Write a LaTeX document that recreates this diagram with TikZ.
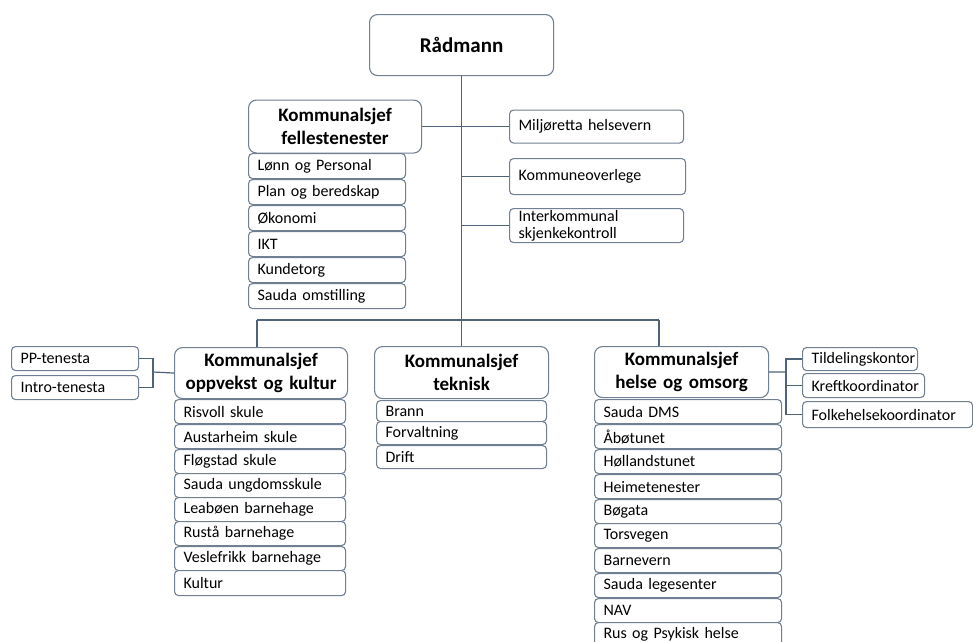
\documentclass[tikz,border=0pt]{standalone}
\usepackage{fontspec}
\setmainfont{Carlito}
\definecolor{boxline}{RGB}{112,128,146}
\definecolor{connc}{RGB}{78,98,122}
\begin{document}
\begin{tikzpicture}[x=1pt,y=-1pt,
  item/.style={draw=boxline, line width=1.1pt, fill=white, rounded corners=4pt, anchor=north west,
    inner xsep=9pt, inner ysep=0pt, align=left, font=\fontsize{16}{19}\selectfont},
  head/.style={draw=boxline, line width=1.1pt, fill=white, rounded corners=8pt, anchor=north west,
    inner sep=0pt, align=center, font=\fontsize{19}{23}\selectfont\bfseries},
  link/.style={draw=connc, line width=1.2pt}]
\useasboundingbox (0,0) rectangle (973,641);
% top
\node[head, minimum width=184, minimum height=61, font=\fontsize{21}{24}\selectfont\bfseries] (ra) at (369,14) {Rådmann};
\node[head, minimum width=173, minimum height=53, text width=170] (fs) at (248,99.5) {Kommunalsjef\\fellestenester};
\node[item, minimum height=25, text width=139] (f1) at (248,153) {Lønn og Personal};
\node[item, minimum height=25, text width=139] (f2) at (248,179) {Plan og beredskap};
\node[item, minimum height=25, text width=139] (f3) at (248,205) {Økonomi};
\node[item, minimum height=25, text width=139] (f4) at (248,231) {IKT};
\node[item, minimum height=25, text width=139] (f5) at (248,257) {Kundetorg};
\node[item, minimum height=25, text width=139] (f6) at (248,283) {Sauda omstilling};
\node[item, minimum height=33, text width=156] (mh) at (509,109.5) {Miljøretta helsevern};
\node[item, minimum height=36, text width=158] (ko) at (509,158) {Kommuneoverlege};
\node[item, minimum height=34, text width=156, font=\fontsize{16}{17}\selectfont] (ik) at (509,208) {Interkommunal\\skjenkekontroll};
% level 2 heads
\node[head, minimum width=173, minimum height=51, text width=170] (op) at (174,347) {Kommunalsjef\\oppvekst og kultur};
\node[head, minimum width=174, minimum height=52, text width=170] (tk) at (374,346) {Kommunalsjef\\teknisk};
\node[head, minimum width=174, minimum height=51, text width=170] (ho) at (594,346) {Kommunalsjef\\helse og omsorg};
% left of oppvekst
\node[item, minimum height=24, text width=109] (pp) at (11,346) {PP-tenesta};
\node[item, minimum height=24, text width=109] (it) at (11,375) {Intro-tenesta};
% oppvekst items
\node[item, minimum height=24, text width=153] (o1) at (174,399) {Risvoll skule};
\node[item, minimum height=24, text width=153] (o2) at (174,424) {Austarheim skule};
\node[item, minimum height=24, text width=153] (o3) at (174,449) {Fløgstad skule};
\node[item, minimum height=24, text width=153] (o4) at (174,473) {Sauda ungdomsskule};
\node[item, minimum height=24, text width=153] (o5) at (174,497) {Leabøen barnehage};
\node[item, minimum height=24, text width=153] (o6) at (174,521) {Rustå barnehage};
\node[item, minimum height=24, text width=153] (o7) at (174,546) {Veslefrikk barnehage};
\node[item, minimum height=25, text width=153] (o8) at (174,570) {Kultur};
% teknisk items
\node[item, minimum height=21, text width=152] (t1) at (376,400) {Brann};
\node[item, minimum height=23, text width=152] (t2) at (376,421) {Forvaltning};
\node[item, minimum height=23, text width=152] (t3) at (376,445) {Drift};
% helse items
\node[item, minimum height=24, text width=169] (h1) at (594,399) {Sauda DMS};
\node[item, minimum height=24, text width=169] (h2) at (594,424) {Åbøtunet};
\node[item, minimum height=24, text width=169] (h3) at (594,449) {Høllandstunet};
\node[item, minimum height=24, text width=169] (h4) at (594,474) {Heimetenester};
\node[item, minimum height=24, text width=169] (h5) at (594,499) {Bøgata};
\node[item, minimum height=24, text width=169] (h6) at (594,523) {Torsvegen};
\node[item, minimum height=24, text width=169] (h7) at (594,548) {Barnevern};
\node[item, minimum height=24, text width=169] (h8) at (594,573) {Sauda legesenter};
\node[item, minimum height=24, text width=169] (h9) at (594,598) {NAV};
\node[item, minimum height=24, text width=169] (h10) at (594,622) {Rus og Psykisk helse};
% right of helse
\node[item, minimum height=23, text width=97] (td) at (802,347) {Tildelingskontor};
\node[item, minimum height=24, text width=104] (kf) at (802,373) {Kreftkoordinator};
\node[item, minimum height=26, text width=152] (fh) at (802,401) {Folkehelsekoordinator};
% connectors
\coordinate (bl) at (257,320);
\coordinate (br) at (659,320);
\coordinate (lj) at (153,372);
\coordinate (rj) at (786,372);
\draw[link] (ra.south) -- (ra.south |- bl);
\draw[link] (bl) -- (br);
\draw[link] (bl) -- (bl |- op.north);
\draw[link] (ra.south |- bl) -- (tk.north);
\draw[link] (br) -- (br |- ho.north);
\draw[link] (fs.east) -- (fs.east -| ra.south);
\draw[link] (ra.south |- mh.west) -- (mh.west);
\draw[link] (ra.south |- ko.west) -- (ko.west);
\draw[link] (ra.south |- ik.west) -- (ik.west);
\draw[link] (pp.east) -| (lj) |- (it.east);
\draw[link] (lj) -- (op.west);
\draw[link] (ho.east) -- (rj);
\draw[link] (td.west) -| (rj) |- (fh.west);
\draw[link] (kf.west) -- (kf.west -| rj);
\end{tikzpicture}
\end{document}
